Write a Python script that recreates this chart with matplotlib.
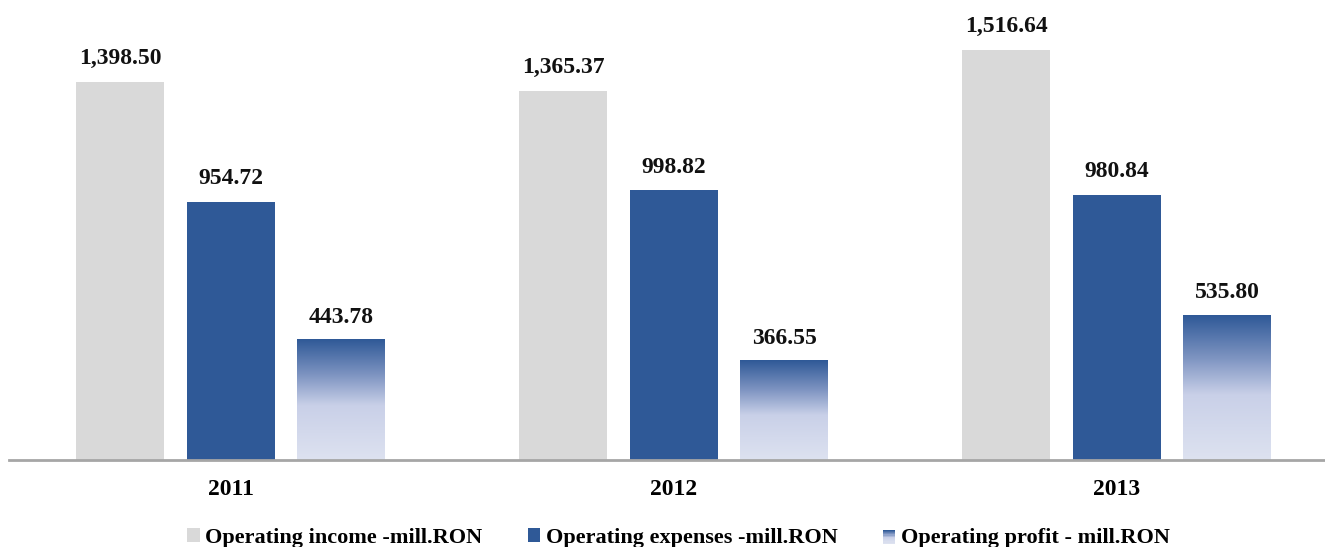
import numpy as np
import matplotlib.pyplot as plt
from matplotlib.colors import LinearSegmentedColormap
from matplotlib.legend_handler import HandlerBase
from matplotlib.patches import Rectangle

years = ['2011', '2012', '2013']
income = [1398.50, 1365.37, 1516.64]
expenses = [954.72, 998.82, 980.84]
profit = [443.78, 366.55, 535.80]
labels = ['Operating income -mill.RON', 'Operating expenses -mill.RON',
          'Operating profit - mill.RON']

gray = '#d9d9d9'
blue = '#2f5997'
grad = LinearSegmentedColormap.from_list(
    'profit', [(0.0, '#dde2f0'), (0.45, '#c9d0e8'), (0.7, '#7f95c2'), (1.0, '#2f5997')])

font = 'Liberation Serif'

fig = plt.figure(figsize=(13.25, 5.47), dpi=100)
ax = fig.add_axes([9 / 1325, 1 - 460 / 547, 1315 / 1325, 460 / 547])

x = np.arange(len(years))
w = 0.1986
step = 0.2494

ax.bar(x - step, income, w, color=gray)
ax.bar(x, expenses, w, color=blue)

# profit bars: vertical gradient images clipped to each bar
grad_img = np.linspace(0, 1, 256).reshape(-1, 1)
for xi, v in zip(x + step, profit):
    ax.imshow(grad_img, cmap=grad, origin='lower', aspect='auto',
              extent=[xi - w / 2, xi + w / 2, 0, v], zorder=2)

for off, vals in [(-step, income), (0, expenses), (step, profit)]:
    for xi, v in zip(x + off, vals):
        ax.text(xi, v + 45, f'{v:,.2f}', ha='center', va='bottom',
                fontsize=17, fontweight='bold', family=font, color='#111111')

ax.set_xlim(-0.5, 2.468)
ax.set_ylim(0, 1700)
ax.set_yticks([])
ax.set_xticks(x)
ax.set_xticklabels(years, fontsize=17, fontweight='bold', family=font)
ax.tick_params(axis='x', length=0, pad=14)
for s in ['top', 'right', 'left']:
    ax.spines[s].set_visible(False)
ax.spines['bottom'].set_color('#a6a6a6')
ax.spines['bottom'].set_linewidth(2)


class GradientHandler(HandlerBase):
    def create_artists(self, legend, orig_handle, xd, yd, width, height, fontsize, trans):
        arts = []
        n = 12
        for i in range(n):
            r = Rectangle((xd, yd + height * i / n), width, height / n,
                          facecolor=grad(i / (n - 1)), edgecolor='none', transform=trans)
            arts.append(r)
        return arts


h1 = Rectangle((0, 0), 1, 1, facecolor=gray)
h2 = Rectangle((0, 0), 1, 1, facecolor=blue)
h3 = Rectangle((0, 0), 1, 1, facecolor='none')
fig.legend([h1, h2, h3], labels, handler_map={h3: GradientHandler()},
           loc='center', bbox_to_anchor=(0.512, 1 - 538 / 547), ncol=3,
           frameon=False, handlelength=0.55, handleheight=0.6, handletextpad=0.25,
           columnspacing=2.05, prop={'family': font, 'weight': 'bold', 'size': 16})

fig.savefig('out.png', dpi=100)
